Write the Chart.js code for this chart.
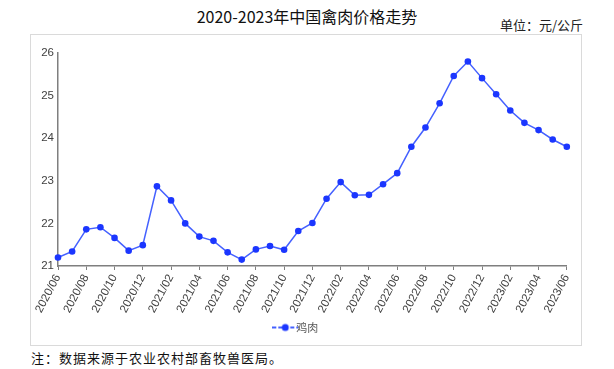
<!DOCTYPE html>
<html>
<head>
<meta charset="utf-8">
<script src="https://cdn.jsdelivr.net/npm/chart.js@4.4.1/dist/chart.umd.min.js"></script>
<style>
    html, body { margin: 0; padding: 0; background: #fff; }
    body { width: 614px; height: 369px; position: relative; overflow: hidden; font-family: "Noto Sans CJK SC", sans-serif; }
    #title { position: absolute; left: 0; width: 614px; top: 5px; text-align: center; font-size: 16px; color: #111; line-height: 22px; }
    #unit { position: absolute; right: 31px; top: 15px; font-size: 13px; color: #222; line-height: 20px; }
    #box { position: absolute; left: 30px; top: 34px; width: 552px; height: 312px; box-sizing: border-box; border: 1px solid #dadada; }
    #wrap { position: relative; width: 550px; height: 310px; }
    #note { position: absolute; left: 31px; top: 348px; font-size: 13px; color: #111; line-height: 20px; letter-spacing: 1px; }
</style>
</head>
<body>
<div id="title">2020-2023年中国禽肉价格走势</div>
<div id="unit">单位：元/公斤</div>
<div id="box"><div id="wrap"><canvas id="c"></canvas></div></div>
<div id="note">注：数据来源于农业农村部畜牧兽医局。</div>
<script>
    const months = [
        '2020/06', '2020/07', '2020/08', '2020/09', '2020/10', '2020/11', '2020/12',
        '2021/01', '2021/02', '2021/03', '2021/04', '2021/05', '2021/06', '2021/07',
        '2021/08', '2021/09', '2021/10', '2021/11', '2021/12', '2022/01', '2022/02',
        '2022/03', '2022/04', '2022/05', '2022/06', '2022/07', '2022/08', '2022/09',
        '2022/10', '2022/11', '2022/12', '2023/01', '2023/02', '2023/03', '2023/04',
        '2023/05', '2023/06'
    ];
    const chickenPrice = [
        21.20, 21.34, 21.86, 21.91, 21.66, 21.36, 21.49,
        22.87, 22.54, 22.00, 21.69, 21.59, 21.32, 21.15,
        21.39, 21.47, 21.38, 21.82, 22.01, 22.58, 22.97,
        22.66, 22.67, 22.92, 23.18, 23.80, 24.25, 24.82,
        25.46, 25.80, 25.41, 25.03, 24.65, 24.36, 24.19,
        23.97, 23.80
    ];
    const seriesName = '鸡肉';
    const yMin = 21;
    const yMax = 26;

    const pointColor = '#1b36ff';
    const lineColor = '#4561ff';
    const axisColor = '#7f7f7f';
    const textColor = '#404040';

    // legend marker: line with a dot, like the original
    const marker = document.createElement('canvas');
    marker.width = 26;
    marker.height = 10;
    const mctx = marker.getContext('2d');
    mctx.strokeStyle = lineColor;
    mctx.lineWidth = 2;
    mctx.setLineDash([4, 2]);
    mctx.beginPath();
    mctx.moveTo(0, 5);
    mctx.lineTo(26, 5);
    mctx.stroke();
    mctx.fillStyle = pointColor;
    mctx.beginPath();
    mctx.arc(13, 5, 3.5, 0, Math.PI * 2);
    mctx.fill();

    const ctx = document.getElementById('c').getContext('2d');
    new Chart(ctx, {
        type: 'line',
        data: {
            labels: months,
            datasets: [{
                label: seriesName,
                data: chickenPrice,
                borderColor: lineColor,
                backgroundColor: pointColor,
                borderWidth: 1.5,
                pointRadius: 3.3,
                pointBackgroundColor: pointColor,
                pointBorderWidth: 0,
                tension: 0,
                pointStyle: 'circle',
            }],
        },
        options: {
            responsive: true,
            maintainAspectRatio: false,
            animation: false,
            layout: { padding: { left: 0, right: 14, top: 18, bottom: 2 } },
            scales: {
                x: {
                    offset: false,
                    grid: { display: true, drawOnChartArea: false, drawTicks: true, tickLength: 4, color: axisColor },
                    border: { color: axisColor, width: 1.5 },
                    ticks: {
                        autoSkip: false,
                        minRotation: 62,
                        maxRotation: 62,
                        color: textColor,
                        font: { family: 'Liberation Sans', size: 11.5 },
                        padding: 2,
                        callback: function (value, index) {
                            return index % 2 === 0 ? months[index] : null;
                        },
                    },
                    afterFit: function (scale) { scale.height = 48; },
                },
                y: {
                    min: yMin,
                    max: yMax,
                    grid: { display: false, drawTicks: false },
                    border: { color: axisColor, width: 1.5 },
                    ticks: {
                        stepSize: 1,
                        padding: 4,
                        color: textColor,
                        font: { family: 'Liberation Sans', size: 11.5 },
                    },
                    afterFit: function (scale) { scale.width = 27; },
                },
            },
            plugins: {
                legend: {
                    display: true,
                    position: 'bottom',
                    labels: {
                        usePointStyle: true,
                        color: '#595959',
                        font: { family: 'Noto Sans CJK SC', size: 11 },
                        padding: 8,
                        generateLabels: function (chart) {
                            return [{
                                text: seriesName,
                                pointStyle: marker,
                                fillStyle: pointColor,
                                strokeStyle: lineColor,
                                lineWidth: 0,
                                datasetIndex: 0,
                                fontColor: '#595959',
                            }];
                        },
                    },
                },
                tooltip: { enabled: false },
                title: { display: false },
            },
        },
    });
</script>
</body>
</html>
